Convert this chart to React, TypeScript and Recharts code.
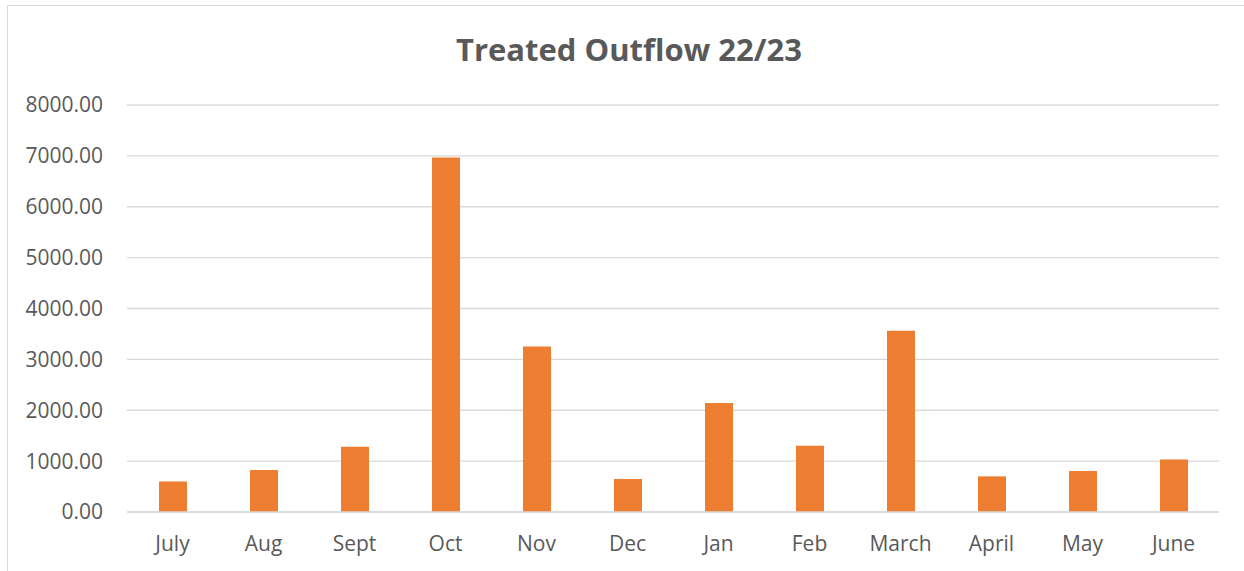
import { BarChart, Bar, XAxis, YAxis, CartesianGrid } from "recharts";

const months = ["July", "Aug", "Sept", "Oct", "Nov", "Dec", "Jan", "Feb", "March", "April", "May", "June"];
const outflow = [600, 825, 1283, 6967, 3253, 648, 2141, 1302, 3562, 700, 805, 1033];
const yTicks = [0, 1000, 2000, 3000, 4000, 5000, 6000, 7000, 8000];

const data = months.map((month, i) => ({ month, total: outflow[i] }));

const FONT = "'Open Sans', 'Liberation Sans', sans-serif";
const TEXT = "#595959";

export default function App() {
	return (
		<div
			style={{
				position: "absolute",
				left: 0,
				top: 0,
				width: 1244,
				height: 571,
				overflow: "hidden",
				background: "#fff",
				fontFamily: FONT,
			}}
		>
			<div
				style={{
					position: "absolute",
					left: 7,
					top: 5,
					width: 1260,
					height: 600,
					border: "1.5px solid #d9d9d9",
				}}
			/>
			<div
				style={{
					position: "absolute",
					left: 0,
					top: 27,
					width: 1258,
					textAlign: "center",
					fontSize: 31,
					fontWeight: 700,
					color: TEXT,
					lineHeight: "44px",
				}}
			>
				Treated Outflow 22/23
			</div>
			<div style={{ position: "absolute", left: 0, top: 0 }}>
				<BarChart
					width={1244}
					height={571}
					data={data}
					margin={{ top: 105, right: 25, left: 0, bottom: 0 }}
				>
					<CartesianGrid vertical={false} stroke="#d9d9d9" strokeWidth={1.3} />
					<XAxis
						dataKey="month"
						height={59}
						tickLine={false}
						tickSize={0}
						tickMargin={24}
						axisLine={{ stroke: "#d9d9d9", strokeWidth: 1.3 }}
						tick={{ fill: TEXT, fontSize: 21, fontFamily: FONT }}
						interval={0}
					/>
					<YAxis
						width={127}
						domain={[0, 8000]}
						ticks={yTicks}
						interval={0}
						axisLine={false}
						tickLine={false}
						tickSize={0}
						tickMargin={24}
						tickFormatter={(v: number) => v.toFixed(2)}
						tick={{ fill: TEXT, fontSize: 21, fontFamily: FONT }}
					/>
					<Bar dataKey="total" fill="#ed7d31" barSize={28} isAnimationActive={false} />
				</BarChart>
			</div>
		</div>
	);
}
